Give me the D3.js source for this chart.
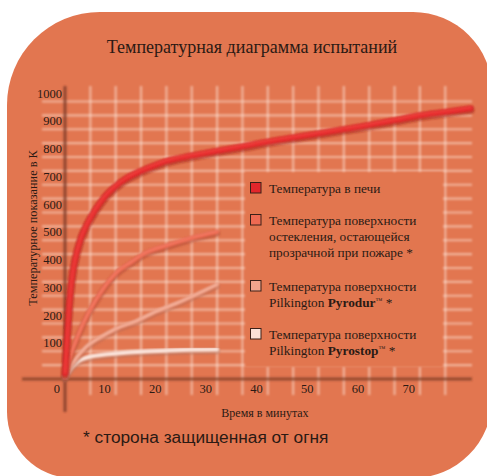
<!DOCTYPE html>
<html>
<head>
<meta charset="utf-8">
<script src="https://cdn.jsdelivr.net/npm/d3@7"></script>
<style>
  html, body { margin: 0; padding: 0; background: #ffffff; }
  svg { display: block; }
</style>
</head>
<body>
<svg id="chart" width="487" height="476"></svg>
<script>
// ---- DATA ----
const title = "Температурная диаграмма испытаний";
const yAxisLabel = "Температурное показание в К";
const xAxisLabel = "Время в минутах";
const footnote = "* сторона защищенная от огня";

const xTickValues = [0, 10, 20, 30, 40, 50, 60, 70];
const yTickValues = [100, 200, 300, 400, 500, 600, 700, 800, 900, 1000];

// [minutes, temperature]
const furnace = [[0,20],[0.5,170],[1,300],[1.5,380],[2,430],[3,500],[4,545],[5,580],[6,610],[8,660],[10,695],[12,722],[15,750],[18,772],[20,785],[25,805],[30,822],[35,838],[40,855],[45,870],[50,885],[55,900],[60,915],[65,932],[70,950],[75,962],[80,975]];
const clearGlass = [[0,10],[1,80],[2,130],[3,175],[4,215],[5,250],[7,310],[10,380],[13,420],[16,455],[20,480],[25,508],[30,530]];
const pyrodur = [[0,8],[1,45],[2,70],[4,112],[7,150],[10,180],[14,208],[18,243],[22,272],[26,305],[30,340]];
const pyrostop = [[0,5],[0.5,20],[1,35],[2,55],[3,68],[5,80],[8,88],[12,95],[16,99],[20,102],[25,105],[30,106]];

const legendLabels = [
  ["Температура в печи"],
  ["Температура поверхности", "остекления, остающейся", "прозрачной при пожаре *"],
  ["Температура поверхности", "Pilkington |Pyrodur|™ *"],
  ["Температура поверхности", "Pilkington |Pyrostop|™ *"]
];
const seriesColors = ["#e3262b", "#ee6a52", "#f2a48c", "#fbe0d6"];

// ---- DRAWING ----
const svg = d3.select("#chart");
const bg = "#e27650";
const ink = "#2b1a14";
const serif = "'Liberation Serif', 'Times New Roman', serif";
const sans = "'Liberation Sans', Arial, sans-serif";

const defs = svg.append("defs");
defs.append("filter").attr("id", "soft").attr("x", "-5%").attr("y", "-5%").attr("width", "110%").attr("height", "110%")
  .append("feGaussianBlur").attr("stdDeviation", 0.8);
defs.append("filter").attr("id", "blur2").attr("x", "-5%").attr("y", "-20%").attr("width", "110%").attr("height", "140%")
  .append("feGaussianBlur").attr("stdDeviation", 1.2);

// background rounded shape
const L = 7, T = 12, R = 492, B = 478;
const p = d3.path();
p.moveTo(L + 93, T);
p.lineTo(R - 79, T);
p.arcTo(R, T, R, T + 79, 79);
p.lineTo(R, B - 79);
p.arcTo(R, B, R - 79, B, 79);
p.lineTo(L + 66, B);
p.arcTo(L, B, L, B - 66, 66);
p.lineTo(L, T + 93);
p.arcTo(L, T, L + 93, T, 93);
p.closePath();
svg.append("path").attr("d", p.toString()).attr("fill", bg);

// scales
const x = d3.scaleLinear().domain([0, 80]).range([65, 470.6]);
const y = d3.scaleLinear().domain([0, 1000]).range([379, 101.5]);

// grid
const grid = svg.append("g").attr("filter", "url(#soft)");
grid.selectAll("line.h").data(d3.range(50, 1001, 50)).join("line")
  .attr("x1", 42).attr("x2", 472)
  .attr("y1", d => y(d)).attr("y2", d => y(d))
  .attr("stroke", "#fff0e6").attr("stroke-opacity", 0.5).attr("stroke-width", 2.2);
grid.selectAll("line.v").data(d3.range(5, 80, 5)).join("line")
  .attr("x1", d => x(d)).attr("x2", d => x(d))
  .attr("y1", 86).attr("y2", 395)
  .attr("stroke", "#fff0e6").attr("stroke-opacity", 0.5).attr("stroke-width", 2.2);

// axes
const axes = svg.append("g").attr("filter", "url(#soft)");
axes.append("line").attr("x1", x(0)).attr("x2", x(0)).attr("y1", 86).attr("y2", 412)
  .attr("stroke", "#7a3a24").attr("stroke-opacity", 0.8).attr("stroke-width", 3);
axes.append("line").attr("x1", 22).attr("x2", 472).attr("y1", y(0)).attr("y2", y(0))
  .attr("stroke", "#7a3a24").attr("stroke-opacity", 0.75).attr("stroke-width", 3.2);

// tick labels
svg.append("g").selectAll("text").data(yTickValues).join("text")
  .attr("x", x(0) - 3).attr("y", d => y(d) - 4)
  .attr("text-anchor", "end")
  .attr("font-family", serif).attr("font-size", 12.5).attr("fill", ink)
  .text(d => d);
svg.append("g").selectAll("text").data(xTickValues).join("text")
  .attr("x", d => x(d) - 5).attr("y", y(0) + 13.5)
  .attr("text-anchor", "end")
  .attr("font-family", serif).attr("font-size", 12.5).attr("fill", ink)
  .text(d => d);

// curves
const line = d3.line().x(d => x(d[0])).y(d => y(d[1])).curve(d3.curveMonotoneX);
const curves = [
  { data: pyrostop, main: seriesColors[3], shade: "#b5715c", hi: "#ffffff", w: 4 },
  { data: pyrodur, main: seriesColors[2], shade: "#b76650", hi: "#ffd6c8", w: 3.6 },
  { data: clearGlass, main: seriesColors[1], shade: "#a94430", hi: "#ff9a84", w: 4.2 },
  { data: furnace, main: seriesColors[0], shade: "#9c1c16", hi: "#ff6453", w: 5.6 }
];
const cg = svg.append("g");
curves.forEach(c => {
  cg.append("path").attr("d", line(c.data)).attr("fill", "none")
    .attr("stroke", c.shade).attr("stroke-opacity", 0.55).attr("stroke-width", c.w + 2)
    .attr("transform", "translate(0,1.6)").attr("filter", "url(#blur2)")
    .attr("stroke-linecap", "round");
  cg.append("path").attr("d", line(c.data)).attr("fill", "none")
    .attr("stroke", c.main).attr("stroke-width", c.w).attr("stroke-linecap", "round")
    .attr("filter", "url(#soft)");
  cg.append("path").attr("d", line(c.data)).attr("fill", "none")
    .attr("stroke", c.hi).attr("stroke-opacity", 0.45).attr("stroke-width", c.w * 0.35)
    .attr("transform", "translate(0,-0.9)").attr("stroke-linecap", "round")
    .attr("filter", "url(#soft)");
});

// legend
const lg = svg.append("g");
lg.append("rect").attr("x", 245).attr("y", 172).attr("width", 198).attr("height", 195)
  .attr("fill", bg).attr("filter", "url(#soft)");
const itemTops = [182, 214, 280, 328];
legendLabels.forEach((lines, i) => {
  const top = itemTops[i];
  lg.append("rect").attr("x", 250.5).attr("y", top + 0.5).attr("width", 10.5).attr("height", 10.5)
    .attr("fill", seriesColors[i]).attr("stroke", "#3a2018").attr("stroke-width", 1);
  lines.forEach((ln, j) => {
    const t = lg.append("text").attr("x", 269).attr("y", top + 11 + j * 15.8)
      .attr("font-family", serif).attr("font-size", 13.3).attr("fill", ink);
    const parts = ln.split("|");
    parts.forEach((part, k) => {
      if (k === 1) {
        t.append("tspan").attr("font-weight", "bold").text(part);
      } else if (part.startsWith("™")) {
        t.append("tspan").attr("font-size", 7).attr("dy", -4).text("™");
        t.append("tspan").attr("dy", 4).text(part.slice(1));
      } else {
        t.append("tspan").text(part);
      }
    });
  });
});

// titles
svg.append("text").attr("x", 252).attr("y", 53).attr("text-anchor", "middle")
  .attr("font-family", serif).attr("font-size", 18).attr("fill", ink).text(title);
svg.append("text").attr("transform", "translate(37,228) rotate(-90)").attr("text-anchor", "middle")
  .attr("font-family", serif).attr("font-size", 12.3).attr("fill", ink).text(yAxisLabel);
svg.append("text").attr("x", 265).attr("y", 417).attr("text-anchor", "middle")
  .attr("font-family", serif).attr("font-size", 12).attr("fill", ink).text(xAxisLabel);
svg.append("text").attr("x", 83).attr("y", 443)
  .attr("font-family", sans).attr("font-size", 17.3).attr("fill", ink).text(footnote);
</script>
</body>
</html>
